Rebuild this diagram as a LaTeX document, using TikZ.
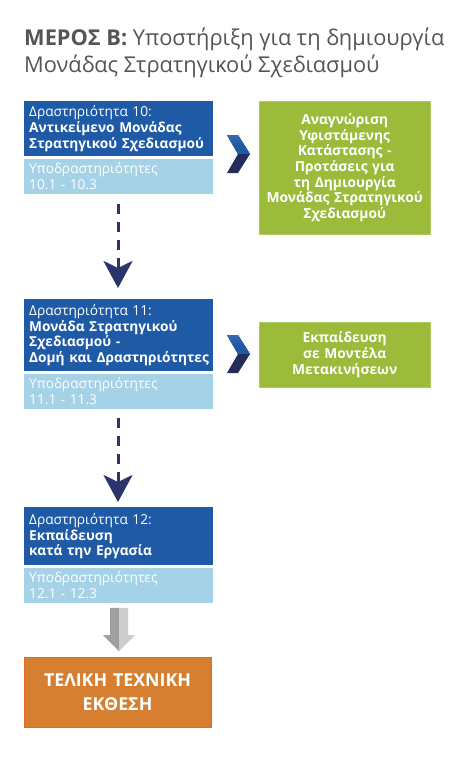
\documentclass[tikz,border=0pt]{standalone}
\usepackage{fontspec}
\setmainfont{Open Sans}
\usetikzlibrary{arrows.meta, positioning, calc}
\definecolor{cdark}{HTML}{1F5AA6}
\definecolor{clight}{HTML}{A5D2E7}
\definecolor{cgreen}{HTML}{9CBB3A}
\definecolor{corange}{HTML}{D77F30}
\definecolor{cnavy}{HTML}{2B346C}
\definecolor{ctitle}{HTML}{555555}
\tikzset{
  every picture/.style={x=1pt, y=-1pt},
  act/.style={anchor=north west, fill=cdark, text=white, align=left, text width=179pt, inner xsep=5pt, inner ysep=2.5pt, font=\fontsize{13.7}{15.7}\selectfont},
  sub/.style={anchor=north west, fill=clight, text=white, align=left, text width=179pt, inner xsep=5pt, inner ysep=2.5pt, minimum height=35pt, font=\fontsize{13.7}{15.7}\selectfont},
  result/.style={anchor=north west, fill=cgreen, draw=cgreen!80!white, text=white, align=center, text width=161pt, inner xsep=5pt, font=\bfseries\fontsize{13.8}{15.6}\selectfont},
  final/.style={anchor=north west, fill=corange, draw=corange!85!red, text=white, align=center, text width=180pt, minimum height=70pt, font=\bfseries\fontsize{17.8}{24}\selectfont},
  flow/.style={draw=cnavy, line width=3pt, dash pattern=on 10pt off 8pt, -{Stealth[length=27pt, width=29pt, inset=7pt]}},
}
\newcommand{\chev}[1]{%
  \fill[top color=cdark!90!white, bottom color=cdark, middle color=cdark] ($(#1)+(-11,-19)$) -- ++(11,0) -- ($(#1)+(12,0)$) -- ($(#1)+(0,0)$) -- cycle;
  \fill[cnavy!85!black] ($(#1)+(0,0)$) -- ($(#1)+(12,0)$) -- ($(#1)+(0,19)$) -- ++(-11,0) -- cycle;}
\begin{document}
\begin{tikzpicture}
  \useasboundingbox[fill=white] (0,0) rectangle (463,777);
  \node[anchor=north west, align=left, text=ctitle, inner sep=0pt, font=\fontsize{21.8}{27}\selectfont] (title) at (24,28) {\textbf{ΜΕΡΟΣ Β:} Υποστήριξη για τη δημιουργία\\Μονάδας Στρατηγικού Σχεδιασμού};

  % activity 10
  \node[act, minimum height=55pt] (act10) at (24,101) {Δραστηριότητα 10:\\\textbf{Αντικείμενο Μονάδας}\\\textbf{Στρατηγικού Σχεδιασμού}};
  \node[sub] (sub10) at ([yshift=-2pt]act10.south west) {Υποδραστηριότητες\\10.1 - 10.3};
  \node[result, minimum height=133pt] (res10) at (259,101) {Αναγνώριση\\Υφιστάμενης\\Κατάστασης -\\Προτάσεις για\\τη Δημιουργία\\Μονάδας Στρατηγικού\\Σχεδιασμού};
  \coordinate (c10) at (238,154);
  \chev{c10}

  % activity 11
  \node[act, minimum height=72pt] (act11) at (24,299) {Δραστηριότητα 11:\\\textbf{Μονάδα Στρατηγικού}\\\textbf{Σχεδιασμού -}\\\mbox{\textbf{Δομή και Δραστηριότητες}}};
  \node[sub] (sub11) at ([yshift=-2pt]act11.south west) {Υποδραστηριότητες\\11.1 - 11.3};
  \node[result, minimum height=65pt] (res11) at (259,322) {Εκπαίδευση\\σε Μοντέλα\\Μετακινήσεων};
  \coordinate (c11) at (238,354);
  \chev{c11}

  % activity 12
  \node[act, minimum height=58pt] (act12) at (24,507) {Δραστηριότητα 12:\\\textbf{Εκπαίδευση}\\\textbf{κατά την Εργασία}};
  \node[sub] (sub12) at ([yshift=-2pt]act12.south west) {Υποδραστηριότητες\\12.1 - 12.3};

  \node[final] (report) at (24,657) {ΤΕΛΙΚΗ ΤΕΧΝΙΚΗ\\ΕΚΘΕΣΗ};

  \draw[flow] ([yshift=-10pt]sub10.south -| 118,0) -- ([yshift=11pt]act11.north -| 118,0);
  \draw[flow] ([yshift=-9pt]sub11.south -| 118,0) -- ([yshift=5pt]act12.north -| 118,0);

  % block arrow to the report
  \coordinate (bt) at ([yshift=-5pt]sub12.south -| 119,0);
  \coordinate (bb) at ([yshift=6pt]report.north -| 119,0);
  \fill[gray!75] (bt) -- ++(-9,0) -- ($(bb)+(-9,-16)$) -- ++(-7,0) -- (bb) -- cycle;
  \fill[gray!40] (bt) -- ++(9,0) -- ($(bb)+(9,-16)$) -- ++(7,0) -- (bb) -- cycle;
\end{tikzpicture}
\end{document}
